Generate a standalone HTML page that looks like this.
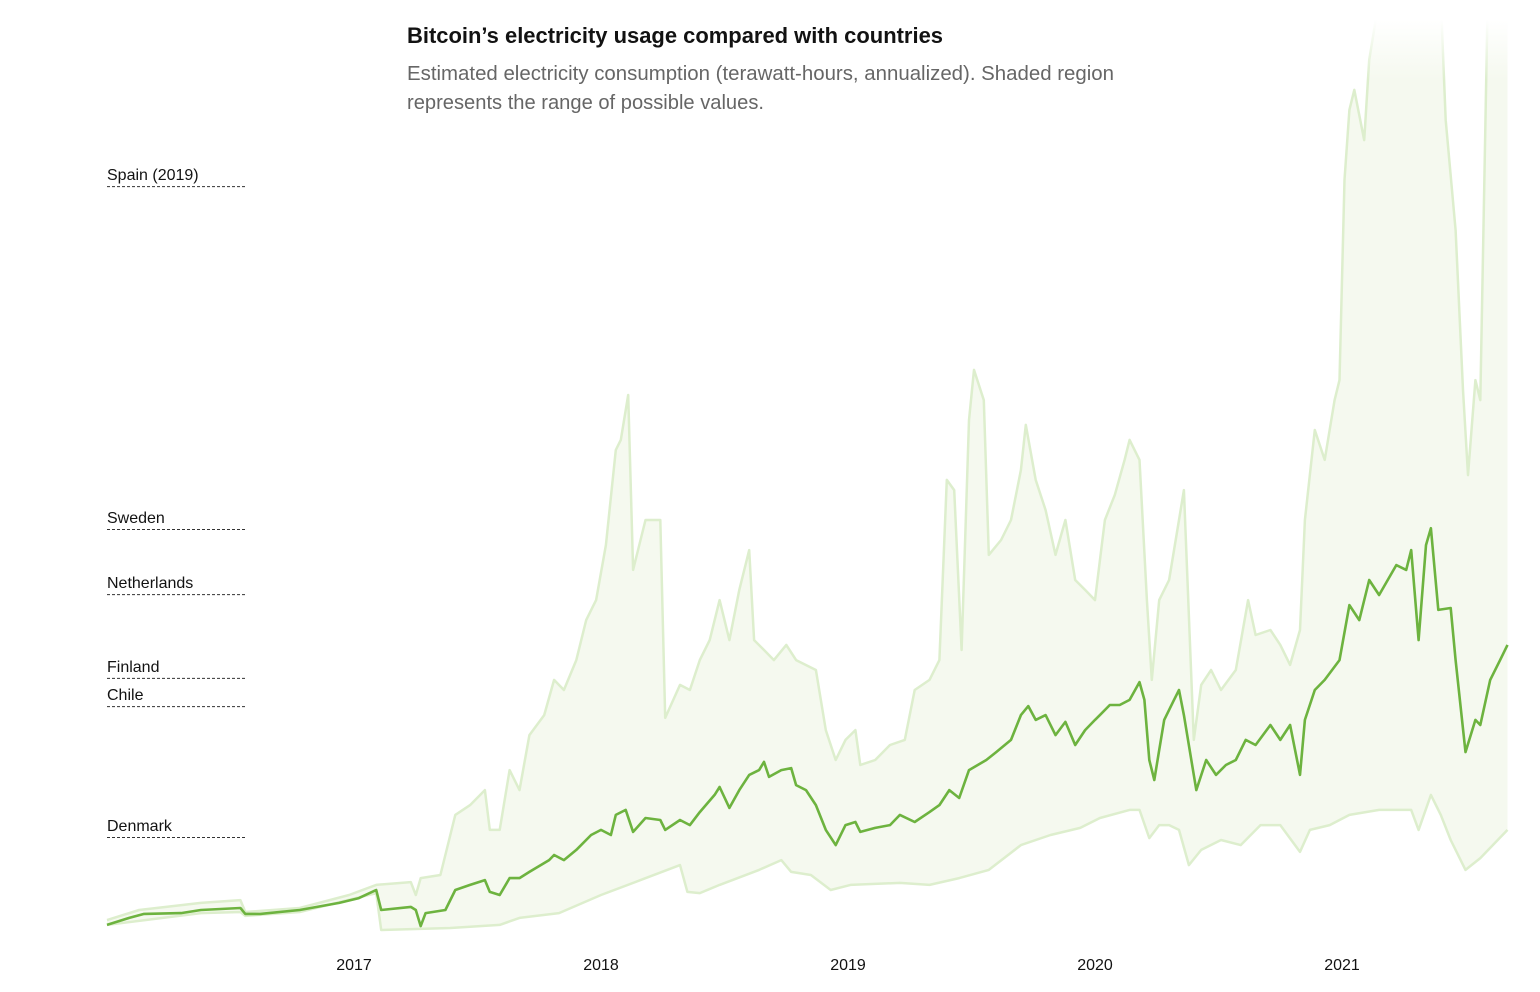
<!DOCTYPE html>
<html><head><meta charset="utf-8">
<style>
html,body{margin:0;padding:0;background:#fff;}
svg{display:block;font-family:"Liberation Sans Narrow","Liberation Sans",sans-serif;}
</style></head>
<body>
<svg id="chart" width="1540" height="992" viewBox="0 0 1540 992" xmlns="http://www.w3.org/2000/svg">
<defs>
<linearGradient id="fade" x1="0" y1="0" x2="0" y2="1">
<stop offset="0" stop-color="#fff" stop-opacity="1"/>
<stop offset="1" stop-color="#fff" stop-opacity="0"/>
</linearGradient>
<clipPath id="plotclip"><rect x="100" y="20" width="1420" height="920"/></clipPath>
</defs>
<g id="countries"></g>
<g id="plot" clip-path="url(#plotclip)"></g>
<rect x="1300" y="20" width="220" height="60" fill="url(#fade)"/>
<text x="407" y="43" font-size="22" font-weight="bold" fill="#121212" textLength="536" lengthAdjust="spacingAndGlyphs">Bitcoin’s electricity usage compared with countries</text>
<text x="407" y="80" font-size="20" fill="#666" textLength="707" lengthAdjust="spacingAndGlyphs">Estimated electricity consumption (terawatt-hours, annualized). Shaded region</text>
<text x="407" y="109" font-size="20" fill="#666" textLength="357" lengthAdjust="spacingAndGlyphs">represents the range of possible values.</text>
<g id="xaxis"></g>
</svg>
<script>
const countryNames = ["Spain (2019)","Sweden","Netherlands","Finland","Chile","Denmark"];
const countryValues = [263.8,142.2,119.1,89.4,79.4,33.0];
const tickYears = [2017,2018,2019,2020,2021];
const tickLabels = ["2017","2018","2019","2020","2021"];

const estDates = [2016.00,2016.09,2016.15,2016.30,2016.38,2016.54,2016.56,2016.62,2016.78,2016.94,
2017.02,2017.09,2017.11,2017.23,2017.25,2017.27,2017.29,2017.37,2017.41,2017.47,2017.53,2017.55,2017.59,2017.63,2017.67,2017.71,2017.79,2017.81,2017.85,2017.90,2017.96,
2018.00,2018.04,2018.06,2018.10,2018.13,2018.18,2018.24,2018.26,2018.32,2018.36,2018.40,2018.46,2018.48,2018.52,2018.56,2018.60,2018.64,2018.66,2018.68,2018.73,2018.77,2018.79,2018.83,2018.87,2018.91,2018.95,2018.99,
2019.03,2019.05,2019.11,2019.17,2019.21,2019.27,2019.33,2019.37,2019.41,2019.45,2019.49,2019.56,2019.60,2019.66,2019.70,2019.73,2019.76,2019.80,2019.84,2019.88,2019.92,2019.96,
2020.00,2020.02,2020.06,2020.10,2020.14,2020.18,2020.20,2020.22,2020.24,2020.26,2020.28,2020.32,2020.34,2020.36,2020.41,2020.45,2020.49,2020.53,2020.57,2020.61,2020.65,2020.71,2020.75,2020.79,2020.83,2020.85,2020.89,2020.93,2020.99,
2021.03,2021.07,2021.11,2021.15,2021.22,2021.26,2021.28,2021.30,2021.31,2021.34,2021.36,2021.39,2021.44,2021.46,2021.50,2021.54,2021.56,2021.60,2021.64,2021.67];
const estValues = [1.8,4.3,5.7,6.0,7.1,7.8,5.7,5.7,7.1,9.6,
11.3,14.2,7.1,8.2,7.1,1.4,6.0,7.1,14.2,16.0,17.7,13.5,12.4,18.4,18.4,20.6,24.8,26.6,24.8,28.4,33.7,
35.5,33.7,40.8,42.6,34.8,39.7,39.0,35.5,39.0,37.2,41.8,47.9,50.7,43.3,49.6,55.0,56.7,59.6,54.3,56.7,57.4,51.4,49.6,44.3,35.5,30.1,37.2,
38.3,34.8,36.2,37.2,40.8,38.3,41.8,44.3,49.6,46.8,56.7,60.3,63.1,67.4,76.2,79.4,74.5,76.2,69.1,73.8,65.6,70.9,
74.5,76.2,79.8,79.8,81.6,87.9,81.6,60.3,53.2,63.8,74.5,81.6,85.1,76.2,49.6,60.3,55.0,58.5,60.3,67.4,65.6,72.7,67.4,72.7,55.0,74.5,85.1,88.7,95.7,
115.2,109.9,124.1,118.8,129.4,127.7,134.7,113.5,102.8,136.5,142.5,113.5,114.2,95.7,63.1,74.5,72.7,88.7,95.7,101.1];

const maxDates = [2016.00,2016.13,2016.38,2016.54,2016.56,2016.78,2016.98,2017.09,2017.23,2017.25,2017.27,2017.35,2017.41,2017.47,2017.53,2017.55,2017.59,2017.63,2017.67,2017.71,2017.77,2017.81,2017.85,2017.90,2017.94,2017.98,
2018.02,2018.06,2018.08,2018.11,2018.13,2018.18,2018.24,2018.26,2018.32,2018.36,2018.40,2018.44,2018.48,2018.52,2018.56,2018.60,2018.62,2018.66,2018.70,2018.75,2018.79,2018.87,2018.91,2018.95,2018.99,
2019.03,2019.05,2019.11,2019.17,2019.23,2019.27,2019.33,2019.37,2019.40,2019.43,2019.46,2019.49,2019.51,2019.55,2019.57,2019.62,2019.66,2019.70,2019.72,2019.76,2019.80,2019.84,2019.88,2019.92,2019.96,
2020.00,2020.04,2020.08,2020.12,2020.14,2020.18,2020.21,2020.23,2020.26,2020.30,2020.34,2020.36,2020.40,2020.43,2020.47,2020.51,2020.57,2020.62,2020.65,2020.71,2020.75,2020.79,2020.83,2020.85,2020.89,2020.93,2020.97,2020.99,
2021.01,2021.03,2021.05,2021.09,2021.11,2021.15,2021.40,2021.42,2021.46,2021.49,2021.51,2021.54,2021.56,2021.59,2021.67];
const maxValues = [3.5,7.1,9.6,10.6,6.4,7.8,12.4,16.0,17.0,12.4,18.4,19.5,40.8,44.3,49.6,35.5,35.5,56.7,49.6,69.1,76.2,88.7,85.1,95.7,109.9,117.0,
136.5,170.2,173.8,189.7,127.7,145.4,145.4,75.2,86.9,85.1,95.7,102.8,117.0,102.8,120.6,134.7,102.8,99.3,95.7,101.1,95.7,92.2,70.9,60.3,67.4,
70.9,58.5,60.3,65.6,67.4,85.1,88.7,95.7,159.6,156.0,99.3,180.8,198.6,187.9,133.0,138.3,145.4,163.1,179.1,159.6,148.9,133.0,145.4,124.1,120.6,
117.0,145.4,154.3,166.7,173.8,166.7,117.0,88.7,117.0,124.1,145.4,156.0,67.4,86.9,92.2,85.1,92.2,117.0,104.6,106.4,101.1,94.0,106.4,145.4,177.3,166.7,187.9,195.0,
266.0,290.8,297.9,280.1,308.5,330,330,287.2,248.2,191.5,161.3,195.0,187.9,330,330];

const minDates = [2016.00,2016.38,2016.54,2016.56,2016.78,2017.09,2017.11,2017.39,2017.59,2017.67,2017.83,2018.00,2018.16,2018.32,2018.35,2018.40,2018.48,2018.64,2018.73,2018.77,2018.85,2018.93,2019.01,2019.21,2019.33,2019.45,2019.57,2019.70,2019.82,2019.94,2020.02,2020.14,2020.18,2020.22,2020.26,2020.30,2020.34,2020.38,2020.43,2020.51,2020.59,2020.67,2020.75,2020.83,2020.87,2020.95,2021.03,2021.15,2021.28,2021.31,2021.36,2021.40,2021.44,2021.50,2021.56,2021.67];
const minValues = [1.8,6.0,6.4,5.0,6.4,13.1,0,0.7,1.8,4.3,6.0,12.4,17.7,23.0,13.5,13.1,16.0,21.3,24.8,20.6,19.5,14.2,16.0,16.7,16.0,18.4,21.3,30.1,33.7,36.2,39.7,42.6,42.6,32.6,37.2,37.2,35.5,23.0,28.4,31.9,30.1,37.2,37.2,27.7,35.5,37.2,40.8,42.6,42.6,35.5,47.9,40.8,31.9,21.3,25.5,35.5];

const NS = "http://www.w3.org/2000/svg";
function xScale(t){ return 107 + (t - 2016) * 247; }
function yScale(v){ return 930 - v * 2.82; }
function pts(d, v){ return d.map((t,i)=> xScale(t).toFixed(1)+","+yScale(v[i]).toFixed(1)); }

const plot = document.getElementById('plot');
const band = document.createElementNS(NS,'polygon');


band.setAttribute('points', pts(maxDates,maxValues).concat(pts(minDates,minValues).reverse()).join(' '));
band.setAttribute('fill','#f5f9ef');
plot.appendChild(band);

const maxLine = document.createElementNS(NS,'polyline');


maxLine.setAttribute('points', pts(maxDates,maxValues).join(' '));
maxLine.setAttribute('fill','none'); maxLine.setAttribute('stroke','#ddeecd'); maxLine.setAttribute('stroke-width','2.5'); maxLine.setAttribute('stroke-linejoin','round');
plot.appendChild(maxLine);

const minLine = document.createElementNS(NS,'polyline');


minLine.setAttribute('points', pts(minDates,minValues).join(' '));
minLine.setAttribute('fill','none'); minLine.setAttribute('stroke','#ddeecd'); minLine.setAttribute('stroke-width','2.5'); minLine.setAttribute('stroke-linejoin','round');
plot.appendChild(minLine);

const estLine = document.createElementNS(NS,'polyline');


estLine.setAttribute('points', pts(estDates,estValues).join(' '));
estLine.setAttribute('fill','none'); estLine.setAttribute('stroke','#6db33f'); estLine.setAttribute('stroke-width','2.6'); estLine.setAttribute('stroke-linejoin','round');
plot.appendChild(estLine);

const cg = document.getElementById('countries');
countryNames.forEach((n,i)=>{
  const y = yScale(countryValues[i]);
  const l = document.createElementNS(NS,'line');
  
  
  l.setAttribute('x1',107); l.setAttribute('x2',247); l.setAttribute('y1',y+0.5); l.setAttribute('y2',y+0.5);
  l.setAttribute('stroke','#333'); l.setAttribute('stroke-width','1'); l.setAttribute('stroke-dasharray','3,2');
  cg.appendChild(l);
  const t = document.createElementNS(NS,'text');
  
  
  t.setAttribute('x',107); t.setAttribute('y',y-6);
  t.setAttribute('font-size','16'); t.setAttribute('fill','#121212');
  t.setAttribute('font-family','"Liberation Sans",sans-serif');
  t.textContent = n;
  cg.appendChild(t);
});

const xg = document.getElementById('xaxis');
tickYears.forEach((yr,i)=>{
  const t = document.createElementNS(NS,'text');
  
  
  t.setAttribute('x',xScale(yr)); t.setAttribute('y',970);
  t.setAttribute('text-anchor','middle'); t.setAttribute('font-size','16'); t.setAttribute('fill','#121212');
  t.setAttribute('font-family','"Liberation Sans",sans-serif');
  t.textContent = tickLabels[i];
  xg.appendChild(t);
});
</script>
</body></html>
